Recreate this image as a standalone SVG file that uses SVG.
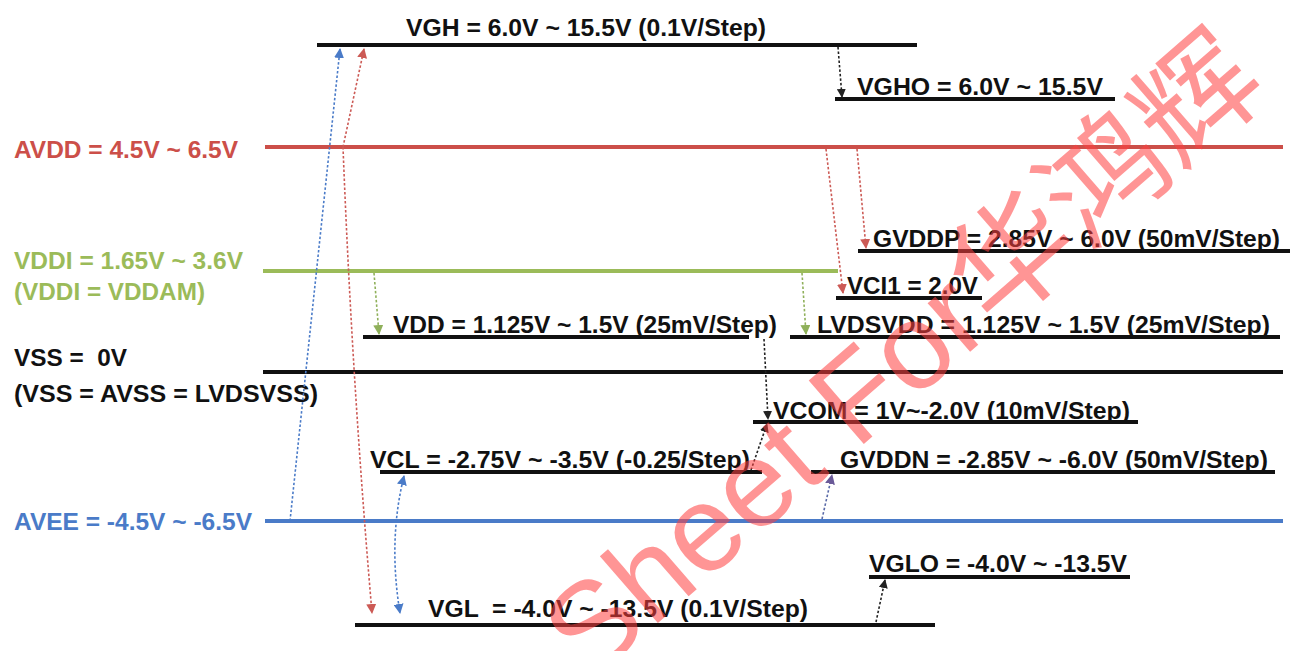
<svg xmlns="http://www.w3.org/2000/svg" width="1295" height="651" viewBox="0 0 1295 651">
<style>
text{font-family:"Liberation Sans",Arial,sans-serif;font-weight:bold;font-size:24.5px;white-space:pre}
.k{fill:#111}
.lk{stroke:#111;stroke-width:4}
.lr{stroke:#cc4f49;stroke-width:4}
.lg{stroke:#9bbb59;stroke-width:4}
.lb{stroke:#4a7bc8;stroke-width:4}
.d{fill:none;stroke-width:1.6;stroke-dasharray:2.5 2}
.dk{stroke:#222}
.dr{stroke:#cc5a55}
.dg{stroke:#8fb05a}
.db{stroke:#4a7bc8}
.dp{stroke:#5a6aa8}
.wm{font-family:"Liberation Sans","Noto Sans CJK SC",sans-serif;font-weight:normal;font-size:122px;fill:#ff4040;opacity:0.55}
</style>
<defs>
<marker id="ak" viewBox="0 0 10 10" refX="9" refY="5" markerWidth="9" markerHeight="9" markerUnits="userSpaceOnUse" orient="auto"><path d="M0,0L10,5L0,10z" fill="#222"/></marker>
<marker id="ar" viewBox="0 0 10 10" refX="9" refY="5" markerWidth="10" markerHeight="10" markerUnits="userSpaceOnUse" orient="auto"><path d="M0,0L10,5L0,10z" fill="#cc5a55"/></marker>
<marker id="ag" viewBox="0 0 10 10" refX="9" refY="5" markerWidth="10" markerHeight="10" markerUnits="userSpaceOnUse" orient="auto"><path d="M0,0L10,5L0,10z" fill="#8fb05a"/></marker>
<marker id="ab" viewBox="0 0 10 10" refX="9" refY="5" markerWidth="10" markerHeight="10" markerUnits="userSpaceOnUse" orient="auto"><path d="M0,0L10,5L0,10z" fill="#4a7bc8"/></marker>
<marker id="ab0" viewBox="0 0 10 10" refX="1" refY="5" markerWidth="10" markerHeight="10" markerUnits="userSpaceOnUse" orient="auto"><path d="M10,0L0,5L10,10z" fill="#4a7bc8"/></marker>
<marker id="ap" viewBox="0 0 10 10" refX="9" refY="5" markerWidth="10" markerHeight="10" markerUnits="userSpaceOnUse" orient="auto"><path d="M0,0L10,5L0,10z" fill="#6a5a98"/></marker>
</defs>

<g id="VGH"><line class="lk" x1="317" y1="45" x2="917" y2="45"/><text class="k" x="406" y="36" textLength="360" lengthAdjust="spacingAndGlyphs">VGH = 6.0V ~ 15.5V (0.1V/Step)</text></g>
<g id="VGHO"><line class="lk" x1="835" y1="99" x2="1115" y2="99"/><text class="k" x="857" y="95" textLength="246" lengthAdjust="spacingAndGlyphs">VGHO = 6.0V ~ 15.5V</text></g>
<g id="AVDD"><line class="lr" x1="265" y1="147" x2="1283" y2="147"/><text fill="#cc4f49" x="14" y="158" textLength="224" lengthAdjust="spacingAndGlyphs">AVDD = 4.5V ~ 6.5V</text></g>
<g id="GVDDP"><line class="lk" x1="858" y1="251" x2="1290" y2="251"/><text class="k" x="873" y="247" textLength="407" lengthAdjust="spacingAndGlyphs">GVDDP = 2.85V ~ 6.0V (50mV/Step)</text></g>
<g id="VDDI"><line class="lg" x1="263" y1="271" x2="838" y2="271"/><text fill="#9bbb59" x="14" y="269" textLength="229" lengthAdjust="spacingAndGlyphs">VDDI = 1.65V ~ 3.6V</text><text fill="#9bbb59" x="14" y="300" textLength="191" lengthAdjust="spacingAndGlyphs">(VDDI = VDDAM)</text></g>
<g id="VCI1"><line class="lk" x1="836" y1="298" x2="982" y2="298"/><text class="k" x="847" y="294" textLength="131" lengthAdjust="spacingAndGlyphs">VCI1 = 2.0V</text></g>
<g id="VDD"><line class="lk" x1="363" y1="337" x2="749" y2="337"/><text class="k" x="393" y="333" textLength="384" lengthAdjust="spacingAndGlyphs">VDD = 1.125V ~ 1.5V (25mV/Step)</text></g>
<g id="LVDSVDD"><line class="lk" x1="790" y1="337" x2="1280" y2="337"/><text class="k" x="817" y="333" textLength="453" lengthAdjust="spacingAndGlyphs">LVDSVDD = 1.125V ~ 1.5V (25mV/Step)</text></g>
<g id="VSS"><line class="lk" x1="263" y1="372" x2="1283" y2="372"/><text class="k" x="14" y="366" textLength="113" lengthAdjust="spacingAndGlyphs">VSS =  0V</text><text class="k" x="14" y="402" textLength="304" lengthAdjust="spacingAndGlyphs">(VSS = AVSS = LVDSVSS)</text></g>
<g id="VCOM"><line class="lk" x1="753" y1="422" x2="1138" y2="422"/><text class="k" x="773" y="419" textLength="357" lengthAdjust="spacingAndGlyphs">VCOM = 1V~-2.0V (10mV/Step)</text></g>
<g id="VCL"><line class="lk" x1="380" y1="472" x2="762" y2="472"/><text class="k" x="370" y="468" textLength="380" lengthAdjust="spacingAndGlyphs">VCL = -2.75V ~ -3.5V (-0.25/Step)</text></g>
<g id="GVDDN"><line class="lk" x1="811" y1="472" x2="1275" y2="472"/><text class="k" x="840" y="468" textLength="428" lengthAdjust="spacingAndGlyphs">GVDDN = -2.85V ~ -6.0V (50mV/Step)</text></g>
<g id="AVEE"><line class="lb" x1="265" y1="521" x2="1283" y2="521"/><text fill="#4a7bc8" x="14" y="530" textLength="238" lengthAdjust="spacingAndGlyphs">AVEE = -4.5V ~ -6.5V</text></g>
<g id="VGLO"><line class="lk" x1="869" y1="577" x2="1130" y2="577"/><text class="k" x="869" y="572" textLength="258" lengthAdjust="spacingAndGlyphs">VGLO = -4.0V ~ -13.5V</text></g>
<g id="VGL"><line class="lk" x1="355" y1="625" x2="935" y2="625"/><text class="k" x="428" y="617" textLength="380" lengthAdjust="spacingAndGlyphs">VGL  = -4.0V ~ -13.5V (0.1V/Step)</text></g>

<g id="connectors">
<path class="d db" d="M290,521 L340,49" marker-end="url(#ab)"/>
<path class="d dr" d="M343,147 L364,49" marker-end="url(#ar)"/>
<path class="d dr" d="M343,147 Q352,380 372,613" marker-end="url(#ar)"/>
<path class="d db" d="M404,476 Q388,540 400,613" marker-start="url(#ab0)" marker-end="url(#ab)"/>
<path class="d dg" d="M374,273 L379,334" marker-end="url(#ag)"/>
<path class="d dg" d="M802,273 L806,334" marker-end="url(#ag)"/>
<path class="d dr" d="M826,149 L843,293" marker-end="url(#ar)"/>
<path class="d dr" d="M857,149 L866,248" marker-end="url(#ar)"/>
<path class="d dk" d="M838,47 L842,97" marker-end="url(#ak)"/>
<path class="d dk" d="M764,339 L768,419" marker-end="url(#ak)"/>
<path class="d dk" d="M751,470 L767,424" marker-end="url(#ak)"/>
<path class="d dp" d="M822,519 L832,475" marker-end="url(#ap)"/>
<path class="d dk" d="M876,622 L885,580" marker-end="url(#ak)"/>
</g>

<text class="wm" transform="translate(590,682) rotate(-41)">Sheet For华鸿辉</text>
</svg>
